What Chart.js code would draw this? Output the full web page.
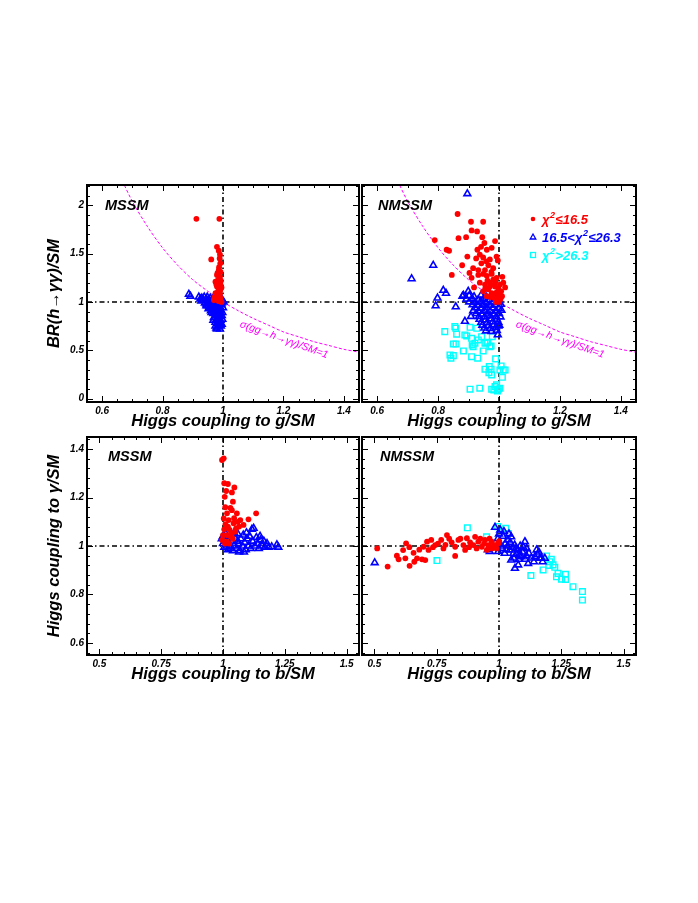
<!DOCTYPE html>
<html>
<head>
<meta charset="utf-8">
<script src="https://cdn.jsdelivr.net/npm/chart.js@4.4.1/dist/chart.umd.min.js"></script>
<style>
    body { margin: 0; background: #fff; }
    #wrap { position: relative; width: 698px; height: 903px; }
    #wrap canvas { position: absolute; left: 0; top: 0; }
</style>
</head>
<body>
<div id="wrap">
    <canvas id="tl" width="698" height="903"></canvas>
    <canvas id="tr" width="698" height="903"></canvas>
    <canvas id="bl" width="698" height="903"></canvas>
    <canvas id="br" width="698" height="903"></canvas>
</div>
<script>
// tick labels
var topXTicks = [0.6, 0.8, 1, 1.2, 1.4];
var topYTicks = [0, 0.5, 1, 1.5, 2];
var botXTicks = [0.5, 0.75, 1, 1.25, 1.5];
var botYTicks = [0.6, 0.8, 1, 1.2, 1.4];

// sigma(gg->h->gamma gamma)/SM = 1 contour
var curveG  = [0.66, 0.70, 0.75, 0.80, 0.85, 0.90, 0.95, 1.00, 1.05, 1.10, 1.15, 1.20, 1.25, 1.30, 1.35, 1.40, 1.45, 1.47];
var curveBR = [2.30, 2.04, 1.78, 1.56, 1.38, 1.23, 1.11, 1.00, 0.91, 0.83, 0.76, 0.69, 0.64, 0.59, 0.55, 0.51, 0.48, 0.46];

// top left: MSSM, BR(h->gg)/SM vs g coupling
var tlRed = [[0.912,1.86],[0.988,1.86],[0.980,1.57],[0.961,1.44],[0.986,1.53],[0.990,1.49],[0.989,1.45],[0.991,1.40],
    [0.986,1.33],[0.992,1.31],[0.980,1.28],[0.990,1.26],[0.984,1.23],[0.991,1.19],[0.975,1.21],[0.980,1.16],[0.991,1.12],
    [0.985,1.14],[0.975,1.09],[0.986,1.07],[0.978,1.04],[0.992,1.04],[0.970,1.02],[0.985,1.01],[0.995,1.00],[0.990,1.08],
    [0.982,1.10],[0.993,1.22],[0.987,1.36],[0.982,1.30],[0.978,1.18],[0.972,1.05],[0.995,1.15],[0.988,1.20]];
var tlBlue = [[0.887,1.08],[0.892,1.06],[0.920,1.05],[0.930,1.04],[0.935,1.02],[0.945,1.03],[0.950,1.00],[0.955,1.02],
    [0.960,0.98],[0.965,1.00],[0.970,0.97],[0.975,0.99],[0.980,0.96],[0.985,0.98],[0.990,0.95],[0.995,0.97],[1.000,0.94],
    [0.940,0.99],[0.950,0.96],[0.958,0.94],[0.965,0.92],[0.972,0.90],[0.978,0.93],[0.985,0.90],[0.992,0.92],[0.998,0.89],
    [0.968,0.88],[0.975,0.86],[0.982,0.87],[0.990,0.85],[0.996,0.86],[0.970,0.84],[0.978,0.82],[0.985,0.83],[0.992,0.81],
    [0.998,0.82],[0.975,0.79],[0.982,0.78],[0.990,0.79],[0.996,0.77],[0.975,0.75],[0.985,0.74],[0.993,0.75],[0.980,0.72],
    [0.990,0.72],[0.960,0.91],[0.955,0.95],[0.945,0.98],[0.925,1.03],[1.002,1.00],[0.998,1.02],[0.968,1.04],[0.985,1.03],
    [0.928,1.01],[0.938,1.05],[0.948,1.05],[0.958,1.04],[0.975,1.03],[0.962,0.96],[0.972,0.94],[0.952,0.93],[0.945,0.96],
    [0.988,0.99],[0.996,0.99],[0.962,0.89],[0.982,0.91],[0.968,0.81],[0.988,0.88],[0.986,0.76],[0.978,0.73]];

// top right: NMSSM
var trRed = [[0.864,1.91],[0.908,1.83],[0.948,1.83],[0.910,1.74],[0.928,1.73],[0.789,1.64],[0.867,1.66],[0.892,1.67],
    [0.945,1.67],[0.952,1.61],[0.987,1.63],[0.828,1.54],[0.836,1.53],[0.929,1.54],[0.941,1.57],[0.960,1.54],[0.976,1.56],
    [0.896,1.47],[0.937,1.49],[0.948,1.46],[0.970,1.44],[0.992,1.47],[0.996,1.43],[0.879,1.38],[0.915,1.35],[0.932,1.33],
    [0.954,1.33],[0.965,1.38],[0.981,1.35],[0.845,1.28],[0.910,1.25],[0.932,1.28],[0.948,1.29],[0.960,1.27],[0.976,1.29],
    [0.992,1.25],[1.011,1.26],[0.918,1.15],[0.937,1.20],[0.954,1.18],[0.970,1.20],[0.981,1.23],[0.987,1.16],[1.003,1.18],
    [1.014,1.20],[1.020,1.15],[0.948,1.11],[0.965,1.13],[0.976,1.09],[0.992,1.10],[1.007,1.11],[0.998,1.07],[0.960,1.06],
    [0.972,1.05],[0.985,1.04],[0.995,1.02],[1.005,1.03],[0.990,1.00],[1.000,1.00],[0.980,1.08],[0.955,1.14],[0.970,1.16],
    [0.985,1.18],[0.962,1.22],[0.988,1.21],[0.998,1.14],[1.010,1.06],[0.942,1.40],[0.958,1.42],[0.925,1.45],[0.903,1.30],
    [0.975,1.31]];
var trBlue = [[0.896,2.12],[0.784,1.38],[0.713,1.24],[0.817,1.12],[0.826,1.09],[0.798,1.04],[0.792,0.96],[0.858,0.95],
    [0.883,1.07],[0.899,1.11],[0.888,0.80],[0.908,0.85],[0.996,0.66],[0.998,0.75],
    [0.880,1.06],[0.902,1.065],[0.918,1.055],[0.941,1.07],[0.958,1.05],
    [0.893,1.03],[0.912,1.035],[0.931,1.02],[0.950,1.035],[0.968,1.025],[0.987,1.03],
    [0.902,1.00],[0.921,0.995],[0.940,1.005],[0.958,0.99],[0.979,1.00],[0.998,0.995],
    [0.913,0.97],[0.930,0.965],[0.949,0.975],[0.969,0.965],[0.988,0.97],[1.006,0.975],
    [0.922,0.94],[0.941,0.935],[0.960,0.945],[0.980,0.94],[0.999,0.935],
    [0.915,0.91],[0.933,0.905],[0.952,0.915],[0.971,0.905],[0.990,0.91],[1.008,0.915],
    [0.925,0.88],[0.944,0.875],[0.963,0.885],[0.982,0.875],[1.000,0.88],
    [0.934,0.85],[0.953,0.845],[0.972,0.855],[0.991,0.85],[1.005,0.845],
    [0.936,0.82],[0.955,0.815],[0.974,0.825],[0.993,0.82],
    [0.942,0.79],[0.961,0.785],[0.980,0.795],[0.998,0.79],
    [0.945,0.76],[0.964,0.755],[0.983,0.765],[1.001,0.76],
    [0.952,0.73],[0.971,0.725],[0.990,0.735],
    [0.957,0.70],[0.975,0.695],[0.993,0.705]];
var trCyan = [[0.822,0.693],[0.858,0.728],[0.861,0.666],[0.859,0.566],[0.883,0.493],[0.842,0.418],[0.850,0.445],
    [0.894,0.648],[0.905,0.738],[0.910,0.624],[0.921,0.573],[0.915,0.538],[0.932,0.607],[0.943,0.641],[0.954,0.573],
    [0.948,0.493],[0.910,0.434],[0.930,0.418],[0.960,0.579],[0.974,0.545],[0.978,0.641],[0.989,0.411],[0.954,0.304],
    [0.967,0.269],[0.976,0.245],[0.974,0.304],[1.007,0.338],[1.014,0.297],[1.003,0.297],[1.011,0.221],[0.905,0.097],
    [0.937,0.108],[0.976,0.097],[0.987,0.124],[0.998,0.097],[0.992,0.142],[1.003,0.108],[0.855,0.745],[0.888,0.659],
    [0.927,0.728],[0.912,0.555],[0.963,0.583],[0.970,0.538],[0.850,0.566],[0.839,0.452],[1.020,0.297],[0.968,0.331],
    [0.983,0.090],[0.995,0.080]];

// bottom left: MSSM, gamma coupling vs b coupling
var blRed = [[1.003,1.362],[0.996,1.355],[1.005,1.259],[1.020,1.256],[1.046,1.242],[1.013,1.227],[1.036,1.221],
    [1.007,1.203],[1.040,1.183],[1.134,1.135],[1.103,1.110],[1.009,1.160],[1.030,1.157],[1.036,1.148],[1.016,1.135],
    [1.056,1.135],[1.003,1.114],[1.023,1.107],[1.070,1.107],[1.043,1.094],[1.083,1.087],[1.005,1.069],[1.027,1.066],
    [1.053,1.073],[1.016,1.045],[1.036,1.052],[1.050,1.060],[0.997,1.025],[1.016,1.018],[1.030,1.040],[1.010,1.090],
    [1.060,1.100],[1.045,1.115],[1.000,1.045],[1.020,1.080],[1.065,1.080],[1.040,1.030],[1.008,1.010],[1.025,1.010]];
var blBlue = [[0.995,1.03],[1.000,1.01],[1.005,0.995],[1.010,1.02],[1.015,1.00],[1.020,0.985],[1.025,1.01],[1.030,0.99],
    [1.035,1.02],[1.040,0.98],[1.045,1.00],[1.050,1.03],[1.055,0.99],[1.060,1.05],[1.062,1.01],[1.068,0.98],[1.072,1.03],
    [1.078,1.00],[1.082,1.045],[1.088,1.015],[1.092,0.985],[1.098,1.03],[1.103,1.00],[1.108,1.04],[1.112,0.99],
    [1.117,1.069],[1.124,1.073],[1.120,1.02],[1.128,1.00],[1.135,1.035],[1.140,1.01],[1.145,0.99],[1.152,1.025],
    [1.158,1.00],[1.165,1.02],[1.170,0.995],[1.178,1.01],[1.185,0.995],[1.197,0.997],[1.218,1.005],[1.224,0.995],
    [1.065,0.975],[1.085,0.975],[1.030,1.04],[1.045,1.055],[1.000,1.04],[1.012,1.05],[1.095,1.055],[1.150,1.04],[1.060,1.02]];

// bottom right: NMSSM
var brRed = [[0.511,0.990],[0.553,0.915],[0.597,0.945],[0.624,0.949],[0.615,0.983],[0.627,1.011],[0.641,0.918],
    [0.657,0.972],[0.671,0.949],[0.691,0.945],[0.704,0.942],[0.697,0.997],[0.711,1.018],[0.728,1.025],[0.717,0.984],
    [0.744,1.004],[0.768,1.025],[0.777,0.990],[0.791,1.045],[0.800,1.030],[0.824,0.997],[0.824,0.959],[0.837,1.025],
    [0.857,1.004],[0.864,0.984],[0.871,1.032],[0.884,1.015],[0.904,1.038],[0.897,1.004],[0.917,1.018],[0.931,0.997],
    [0.944,1.025],[0.957,1.004],[0.971,1.018],[0.984,1.004],[0.997,1.011],[0.951,0.984],[0.971,0.990],[0.735,0.995],
    [0.755,1.010],[0.785,1.005],[0.810,1.015],[0.845,1.030],[0.880,0.995],[0.910,0.990],[0.925,1.030],[0.940,1.010],
    [0.962,1.030],[0.978,1.000],[0.990,0.990],[1.000,1.020],[0.660,0.935],[0.680,0.985],[0.640,0.995],[0.590,0.960]];
var brBlue = [[0.501,0.931],[0.984,1.077],[1.005,1.066],[1.016,1.040],[1.036,1.025],[1.049,1.038],[1.063,1.004],
    [1.043,0.984],[1.076,0.984],[1.104,1.018],[1.111,0.990],[1.090,0.956],[1.049,0.942],[1.064,0.908],[1.077,0.922],
    [1.117,0.928],[1.151,0.984],[1.144,0.956],[1.164,0.949],[1.184,0.949],[1.023,0.970],[0.997,0.977],[0.963,0.977],
    [0.955,0.985],[0.990,0.995],[1.010,1.000],[1.025,1.010],[1.030,0.985],[1.055,0.995],[1.070,0.965],[1.085,1.000],
    [1.095,0.975],[1.120,0.970],[1.130,0.950],[1.155,0.965],[1.170,0.950],[1.175,0.935],[1.140,0.935],[1.060,0.950],
    [1.040,1.050],[1.020,1.060],[1.000,1.050],[0.995,1.030],[1.012,0.990],[1.080,0.945],[1.105,0.945],
    [1.035,1.000],[1.045,1.015],[1.058,0.970],[1.068,0.990],[1.082,0.960],[1.098,0.995],[1.110,0.960],[1.160,0.975]];
var brCyan = [[0.751,0.940],[0.873,1.075],[0.950,1.038],[0.995,1.080],[1.027,1.073],[1.037,1.052],[1.128,0.878],
    [1.177,0.901],[1.191,0.959],[1.204,0.935],[1.217,0.922],[1.224,0.912],[1.231,0.873],[1.251,0.863],[1.267,0.883],
    [1.267,0.862],[1.297,0.832],[1.335,0.812],[1.335,0.777],[1.237,0.887],[1.210,0.945],[1.200,0.920]];

var FONT = "'Liberation Sans', Arial, Helvetica, sans-serif";
var tickFont = { family: FONT, size: 10, weight: 'bold', style: 'italic' };
var titleFont = { family: FONT, size: 16.5, weight: 'bold', style: 'italic', lineHeight: 1.2 };

function pts(arr) {
    return arr.map(function (p) { return { x: p[0], y: p[1] }; });
}

function minorList(scale, step) {
    var out = [];
    for (var i = Math.ceil(scale.min / step - 1e-6); i * step <= scale.max + 1e-9; i++) {
        out.push(Math.round(i * step * 1000) / 1000);
    }
    return out;
}

function isMajor(v, majors) {
    return majors.some(function (m) { return Math.abs(m - v) < 1e-6; });
}

function drawSup(ctx, x, y, parts, color) {
    ctx.fillStyle = color;
    ctx.textBaseline = 'alphabetic';
    ctx.textAlign = 'left';
    parts.forEach(function (p) {
        if (p[1]) {
            ctx.font = 'italic bold 9px ' + FONT;
            ctx.fillText(p[0], x + 0.5, y - 6);
        } else {
            ctx.font = 'italic bold 13px ' + FONT;
            ctx.fillText(p[0], x, y);
        }
        x += ctx.measureText(p[0]).width + (p[1] ? 1 : 0);
    });
}

var rootFrame = {
    id: 'rootFrame',
    afterDatasetsDraw: function (chart) {
        var o = chart.options.plugins.rootFrame;
        var a = chart.chartArea, ctx = chart.ctx;
        var xs = chart.scales.x, ys = chart.scales.y;
        ctx.save();
        ctx.strokeStyle = '#000';
        ctx.lineWidth = 1;
        ctx.beginPath();
        minorList(xs, o.xMinor).forEach(function (v) {
            var px = Math.round(xs.getPixelForValue(v)) + 0.5;
            var len = isMajor(v, o.xMajor) ? 6 : 3;
            ctx.moveTo(px, a.bottom); ctx.lineTo(px, a.bottom - len);
            ctx.moveTo(px, a.top); ctx.lineTo(px, a.top + len);
        });
        minorList(ys, o.yMinor).forEach(function (v) {
            var py = Math.round(ys.getPixelForValue(v)) + 0.5;
            var len = isMajor(v, o.yMajor) ? 6 : 3;
            ctx.moveTo(a.left, py); ctx.lineTo(a.left + len, py);
            ctx.moveTo(a.right, py); ctx.lineTo(a.right - len, py);
        });
        ctx.stroke();
        ctx.lineWidth = 2;
        ctx.strokeRect(a.left, a.top, a.right - a.left, a.bottom - a.top);

        // panel label
        ctx.fillStyle = '#000';
        ctx.font = 'italic bold 14.5px ' + FONT;
        ctx.textAlign = 'left';
        ctx.textBaseline = 'alphabetic';
        ctx.fillText(o.label, a.left + o.labelPos[0], a.top + o.labelPos[1]);

        // curve label along the contour
        if (o.curveText) {
            var x1 = xs.getPixelForValue(o.curveAt[0][0]), y1 = ys.getPixelForValue(o.curveAt[0][1]);
            var x2 = xs.getPixelForValue(o.curveAt[1][0]), y2 = ys.getPixelForValue(o.curveAt[1][1]);
            ctx.save();
            ctx.translate(x1, y1);
            ctx.rotate(Math.atan2(y2 - y1, x2 - x1));
            ctx.fillStyle = '#ff00ff';
            ctx.font = 'italic 10.5px ' + FONT;
            ctx.textBaseline = 'middle';
            ctx.fillText(o.curveText, 0, 0);
            ctx.restore();
        }

        // legend
        if (o.legend) {
            var lx = a.left + 171, tx = a.left + 180;
            var r1 = a.top + 34, r2 = a.top + 52, r3 = a.top + 70;
            ctx.fillStyle = '#ff0000';
            ctx.beginPath(); ctx.arc(lx, r1, 2.3, 0, Math.PI * 2); ctx.fill();
            ctx.strokeStyle = '#0000ff'; ctx.lineWidth = 1.3;
            ctx.beginPath(); ctx.moveTo(lx, r2 - 3); ctx.lineTo(lx + 2.8, r2 + 2); ctx.lineTo(lx - 2.8, r2 + 2); ctx.closePath(); ctx.stroke();
            ctx.strokeStyle = '#00ffff';
            ctx.strokeRect(lx - 2.5, r3 - 2.5, 5, 5);
            drawSup(ctx, tx, r1 + 4.5, [['\u03c7', 0], ['2', 1], ['\u226416.5', 0]], '#ff0000');
            drawSup(ctx, tx, r2 + 4.5, [['16.5<\u03c7', 0], ['2', 1], ['\u226426.3', 0]], '#0000ff');
            drawSup(ctx, tx, r3 + 4.5, [['\u03c7', 0], ['2', 1], ['>26.3', 0]], '#00ffff');
        }
        ctx.restore();
    }
};

function makePanel(id, p) {
    var L = p.frame[0], T = p.frame[1], R = p.frame[2], B = p.frame[3];
    var yw = p.yTitle ? 57 : 0;
    var xh = 40;

    var datasets = [
        { label: 'lo', data: pts(p.red), pointStyle: 'circle', pointRadius: 2.9, borderWidth: 0,
          backgroundColor: '#ff0000', borderColor: '#ff0000', order: 1 },
        { label: 'mid', data: pts(p.blue), pointStyle: 'triangle', pointRadius: 3.9, borderWidth: 1.6,
          backgroundColor: 'rgba(0,0,0,0)', borderColor: '#0000ff', order: 2 },
        { type: 'line', label: 'v1', data: [{ x: 1, y: p.yMin }, { x: 1, y: p.yMax }], showLine: true,
          borderColor: '#000', borderWidth: 1.6, borderDash: [5, 3, 1.5, 3], pointRadius: 0, order: 6 },
        { type: 'line', label: 'h1', data: [{ x: p.xMin, y: 1 }, { x: p.xMax, y: 1 }], showLine: true,
          borderColor: '#000', borderWidth: 1.6, borderDash: [5, 3, 1.5, 3], pointRadius: 0, order: 6 }
    ];
    if (p.cyan) {
        datasets.push({ label: 'hi', data: pts(p.cyan), pointStyle: 'rect', pointRadius: 4, borderWidth: 1.4,
            backgroundColor: 'rgba(0,0,0,0)', borderColor: '#00ffff', order: 3 });
    }
    if (p.curve) {
        datasets.push({ type: 'line', label: 'curve', showLine: true, pointRadius: 0, tension: 0.3,
            data: curveG.map(function (g, i) { return { x: g, y: curveBR[i] }; }),
            borderColor: '#ff00ff', borderWidth: 1, borderDash: [3, 2], order: 5 });
    }

    new Chart(document.getElementById(id), {
        type: 'scatter',
        data: { datasets: datasets },
        options: {
            responsive: false,
            animation: false,
            devicePixelRatio: 1,
            events: [],
            layout: { padding: { left: L - yw, top: T, right: 698 - R, bottom: 903 - B - xh } },
            plugins: {
                legend: { display: false },
                tooltip: { enabled: false },
                rootFrame: {
                    label: p.label, labelPos: p.labelPos, legend: p.legend,
                    xMajor: p.xTicks, yMajor: p.yTicks, xMinor: p.xMinor, yMinor: p.yMinor,
                    curveText: p.curve ? '\u03c3(gg\u2192h\u2192\u03b3\u03b3)/SM=1' : null,
                    curveAt: [[1.057, 0.772], [1.341, 0.452]]
                }
            },
            scales: {
                x: {
                    type: 'linear', position: 'bottom', min: p.xMin, max: p.xMax,
                    grid: { display: false, drawTicks: false }, border: { display: false },
                    afterBuildTicks: function (s) { s.ticks = p.xTicks.map(function (v) { return { value: v }; }); },
                    afterFit: function (s) { s.height = xh; },
                    ticks: { autoSkip: false, maxRotation: 0, padding: 3, color: '#000', font: tickFont,
                        callback: function (v) { return String(v); } },
                    title: { display: true, text: p.xTitle, color: '#000', font: titleFont, padding: { top: 0, bottom: 11 } }
                },
                y: {
                    type: 'linear', position: 'left', min: p.yMin, max: p.yMax,
                    grid: { display: false, drawTicks: false }, border: { display: false },
                    afterBuildTicks: function (s) { s.ticks = p.yTicks.map(function (v) { return { value: v }; }); },
                    afterFit: function (s) { s.width = yw; },
                    ticks: { display: !!p.yTitle, autoSkip: false, padding: 3, color: '#000', font: tickFont,
                        callback: function (v) { return String(v); } },
                    title: { display: !!p.yTitle, text: p.yTitle || '', color: '#000', font: titleFont, padding: { top: 15, bottom: 0 } }
                }
            }
        },
        plugins: [rootFrame]
    });
}

makePanel('tl', {
    frame: [87, 185, 359, 402], xMin: 0.55, xMax: 1.45, yMin: -0.035, yMax: 2.21,
    xTicks: topXTicks, yTicks: topYTicks, xMinor: 0.05, yMinor: 0.1,
    xTitle: 'Higgs coupling to g/SM', yTitle: 'BR(h\u2192\u03b3\u03b3)/SM',
    label: 'MSSM', labelPos: [18, 25], red: tlRed, blue: tlBlue, curve: true
});
makePanel('tr', {
    frame: [362, 185, 636, 402], xMin: 0.55, xMax: 1.45, yMin: -0.035, yMax: 2.21,
    xTicks: topXTicks, yTicks: topYTicks, xMinor: 0.05, yMinor: 0.1,
    xTitle: 'Higgs coupling to g/SM', yTitle: null,
    label: 'NMSSM', labelPos: [16, 25], red: trRed, blue: trBlue, cyan: trCyan, curve: true, legend: true
});
makePanel('bl', {
    frame: [87, 437, 359, 655], xMin: 0.45, xMax: 1.55, yMin: 0.55, yMax: 1.45,
    xTicks: botXTicks, yTicks: botYTicks, xMinor: 0.05, yMinor: 0.04,
    xTitle: 'Higgs coupling to b/SM', yTitle: 'Higgs coupling to \u03b3/SM',
    label: 'MSSM', labelPos: [21, 24], red: blRed, blue: blBlue
});
makePanel('br', {
    frame: [362, 437, 636, 655], xMin: 0.45, xMax: 1.55, yMin: 0.55, yMax: 1.45,
    xTicks: botXTicks, yTicks: botYTicks, xMinor: 0.05, yMinor: 0.04,
    xTitle: 'Higgs coupling to b/SM', yTitle: null,
    label: 'NMSSM', labelPos: [18, 24], red: brRed, blue: brBlue, cyan: brCyan
});
</script>
</body>
</html>
